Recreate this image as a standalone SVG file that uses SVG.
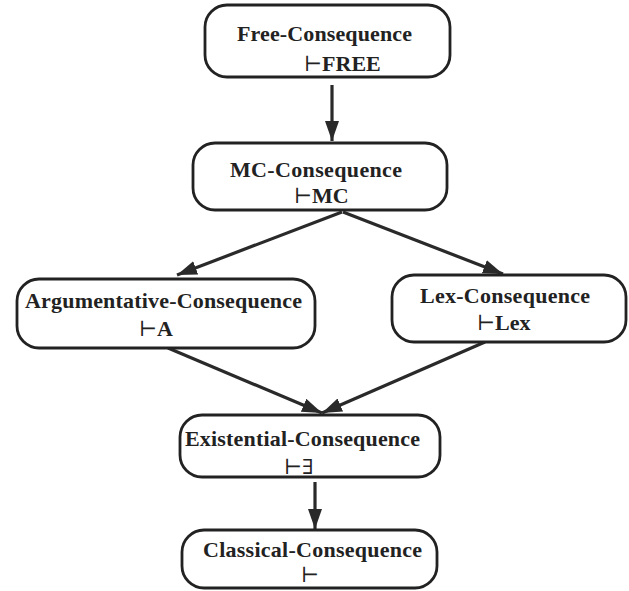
<svg xmlns="http://www.w3.org/2000/svg" width="629" height="591" viewBox="0 0 629 591">
<style>
.box{fill:#fff;stroke:#222;stroke-width:2.8}
.t{font-family:"Liberation Serif","Times New Roman",serif;font-weight:bold;font-size:22px;fill:#222}
.s{font-family:"DejaVu Serif","Liberation Serif",serif;font-size:21px;fill:#222}
.c{stroke:#2a2a2a;stroke-width:3.2;fill:none}
</style>
<defs>
<marker id="ah" markerUnits="userSpaceOnUse" markerWidth="22" markerHeight="16" refX="20" refY="7" orient="auto">
<path d="M0,0 L20,7 L0,14 z" fill="#2a2a2a"/>
</marker>
</defs>
<rect width="629" height="591" fill="#fff"/>
<g id="connectors">
<line class="c" x1="332" y1="85" x2="332" y2="141" marker-end="url(#ah)"/>
<line class="c" x1="342" y1="212" x2="177" y2="275" marker-end="url(#ah)"/>
<line class="c" x1="343" y1="212" x2="503" y2="274" marker-end="url(#ah)"/>
<line class="c" x1="168" y1="348" x2="322" y2="413" marker-end="url(#ah)"/>
<line class="c" x1="485" y1="342" x2="322" y2="413" marker-end="url(#ah)"/>
<line class="c" x1="315" y1="482" x2="315" y2="529" marker-end="url(#ah)"/>
</g>
<g id="free">
<rect class="box" x="205" y="5" width="245" height="72" rx="22"/>
<text class="t" x="237" y="41" textLength="175">Free-Consequence</text>
<text class="t" x="304" y="71"><tspan class="s" font-weight="normal">⊢</tspan>FREE</text>
</g>
<g id="mc">
<rect class="box" x="193" y="143" width="254" height="67" rx="22"/>
<text class="t" x="230" y="177" textLength="172">MC-Consequence</text>
<text class="t" x="294" y="203"><tspan class="s" font-weight="normal">⊢</tspan>MC</text>
</g>
<g id="arg">
<rect class="box" x="17" y="279" width="298" height="69" rx="22"/>
<text class="t" x="25" y="308" textLength="277">Argumentative-Consequence</text>
<text class="t" x="139" y="336"><tspan class="s" font-weight="normal">⊢</tspan>A</text>
</g>
<g id="lex">
<rect class="box" x="392" y="275" width="234" height="67" rx="22"/>
<text class="t" x="420" y="303" textLength="170">Lex-Consequence</text>
<text class="t" x="477" y="330"><tspan class="s" font-weight="normal">⊢</tspan>Lex</text>
</g>
<g id="existential">
<rect class="box" x="180" y="415" width="260" height="62" rx="22"/>
<text class="t" x="185" y="446" textLength="235">Existential-Consequence</text>
<text class="s" x="284" y="474">⊢∃</text>
</g>
<g id="classical">
<rect class="box" x="182" y="530" width="255" height="58" rx="22"/>
<text class="t" x="203" y="557" textLength="219">Classical-Consequence</text>
<text class="s" x="301" y="582">⊢</text>
</g>
</svg>
